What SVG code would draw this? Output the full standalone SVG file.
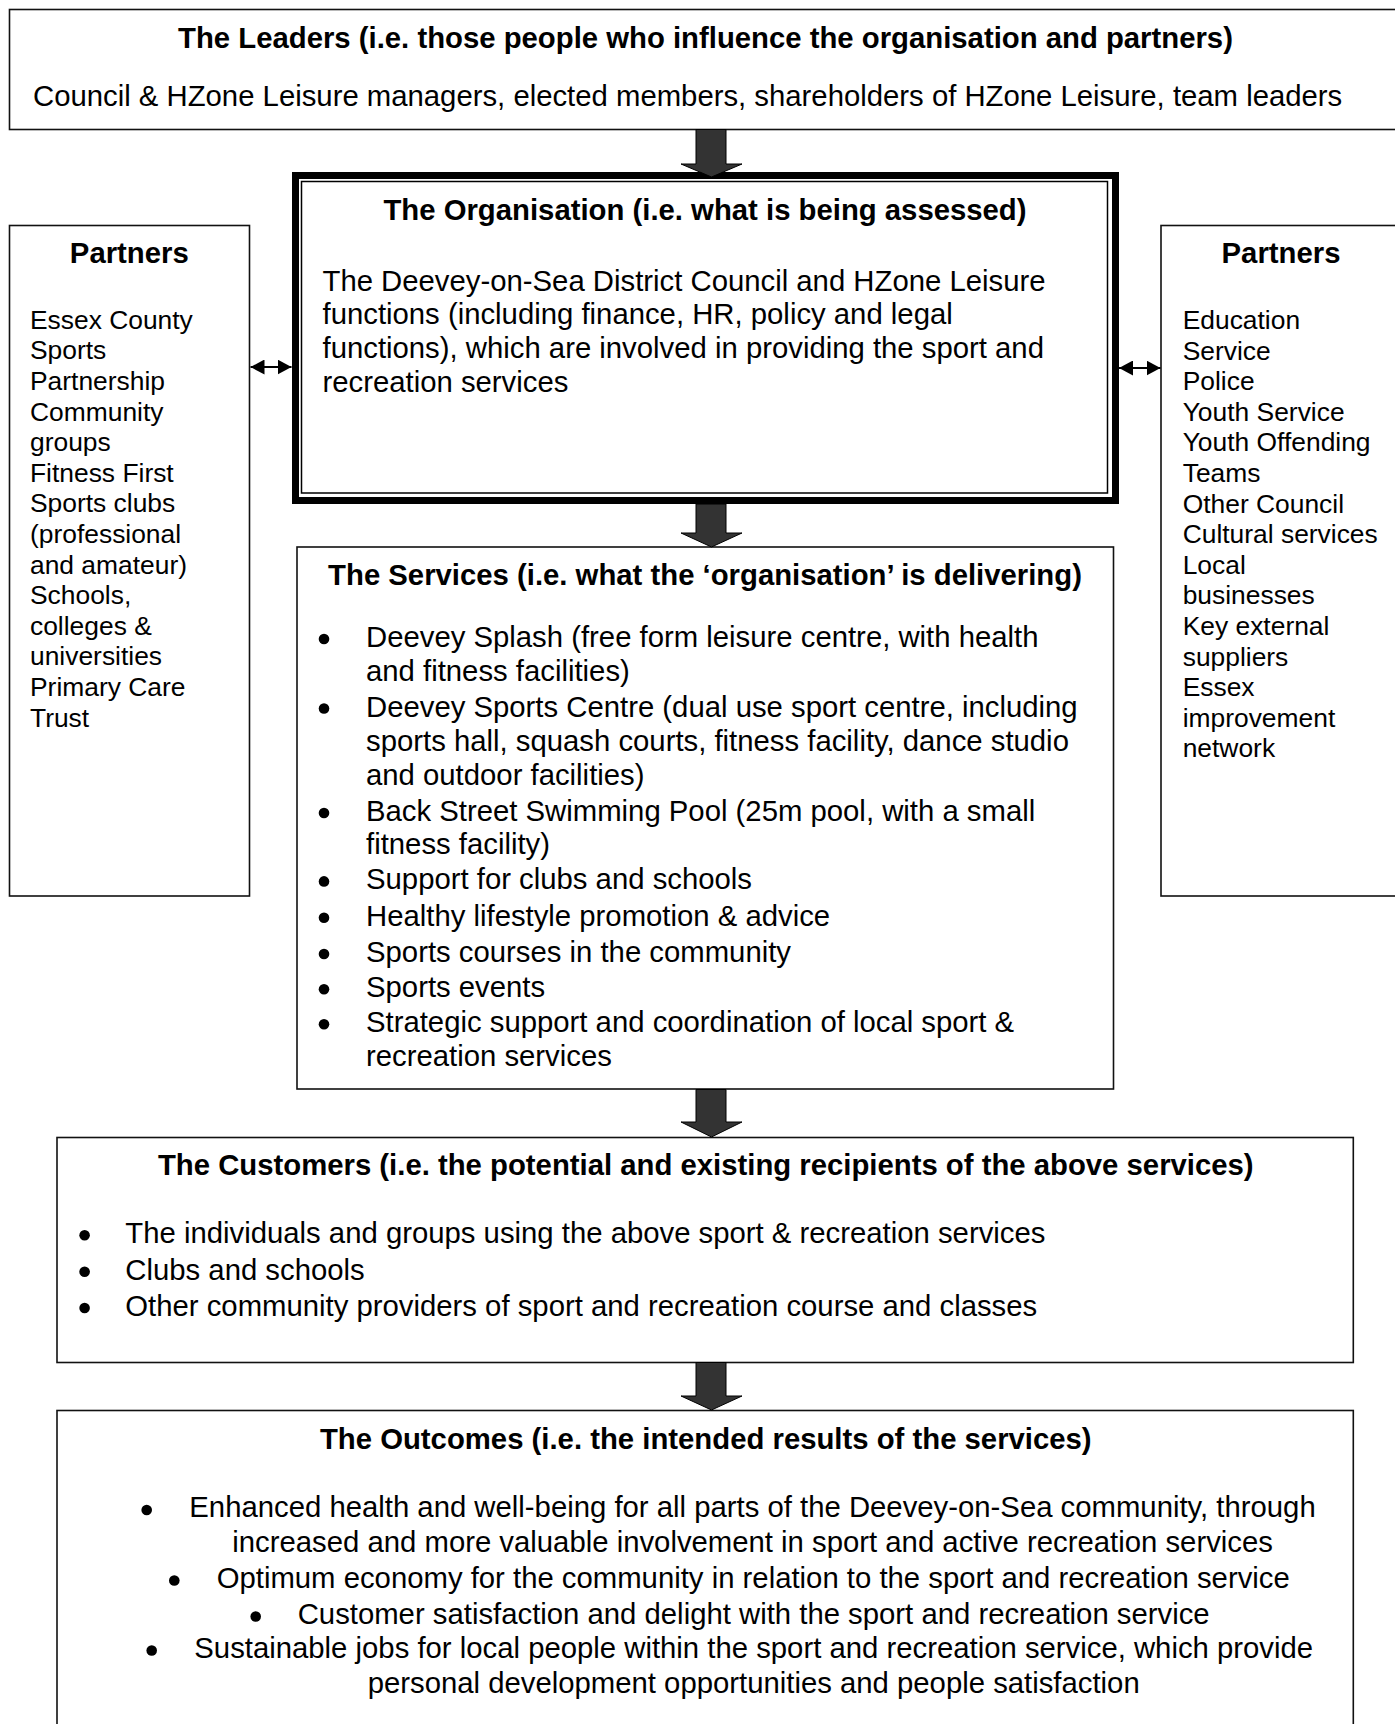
<svg xmlns="http://www.w3.org/2000/svg" width="1395" height="1724" viewBox="0 0 1395 1724">
<defs>
<style>
.box{fill:#fff;stroke:#111;stroke-width:1.6}
.t{font-family:"Liberation Sans",Arial,sans-serif;font-size:29.3px;fill:#000}
.b{font-weight:bold}
.m{text-anchor:middle}
.p{font-family:"Liberation Sans",Arial,sans-serif;font-size:26.4px;fill:#000}
.arrow{fill:#333;stroke:#000;stroke-width:1}
.dbl{stroke:#000;stroke-width:1.8;fill:none;marker-start:url(#ah);marker-end:url(#ah)}
.dot{fill:#000}
</style>
<marker id="ah" markerUnits="userSpaceOnUse" markerWidth="14" markerHeight="15" refX="14" refY="7.5" orient="auto-start-reverse">
<path d="M0,0 L14,7.5 L0,15 z" fill="#000"/>
</marker>
</defs>
<rect width="1395" height="1724" fill="#fff"/>

<g id="leaders">
<rect class="box" x="9.5" y="9.5" width="1400" height="120"/>
<text class="t b m" x="705.5" y="48">The Leaders (i.e. those people who influence the organisation and partners)</text>
<text class="t" x="33" y="106">Council &amp; HZone Leisure managers, elected members, shareholders of HZone Leisure, team leaders</text>
</g>

<g id="organisation">
<rect x="295.5" y="175.5" width="820" height="325" fill="#fff" stroke="#000" stroke-width="7"/>
<rect x="301.5" y="181.5" width="806" height="311.5" fill="none" stroke="#000" stroke-width="1.5"/>
<text class="t b m" x="705" y="220">The Organisation (i.e. what is being assessed)</text>
<text class="t" x="322.5" y="290.7">The Deevey-on-Sea District Council and HZone Leisure</text>
<text class="t" x="322.5" y="324.4">functions (including finance, HR, policy and legal</text>
<text class="t" x="322.5" y="358.1">functions), which are involved in providing the sport and</text>
<text class="t" x="322.5" y="391.8">recreation services</text>
</g>

<g id="partners-left">
<rect class="box" x="9.5" y="225.5" width="240" height="670.5"/>
<text class="t b m" x="129.3" y="263.3">Partners</text>
<text class="p" x="30" y="328.7">Essex County</text>
<text class="p" x="30" y="359.3">Sports</text>
<text class="p" x="30" y="389.9">Partnership</text>
<text class="p" x="30" y="420.5">Community</text>
<text class="p" x="30" y="451.1">groups</text>
<text class="p" x="30" y="481.7">Fitness First</text>
<text class="p" x="30" y="512.3">Sports clubs</text>
<text class="p" x="30" y="542.9">(professional</text>
<text class="p" x="30" y="573.5">and amateur)</text>
<text class="p" x="30" y="604.1">Schools,</text>
<text class="p" x="30" y="634.7">colleges &amp;</text>
<text class="p" x="30" y="665.3">universities</text>
<text class="p" x="30" y="695.9">Primary Care</text>
<text class="p" x="30" y="726.5">Trust</text>
</g>

<g id="partners-right">
<rect class="box" x="1161" y="225.5" width="300" height="670.5"/>
<text class="t b m" x="1281" y="263.3">Partners</text>
<text class="p" x="1182.7" y="329">Education</text>
<text class="p" x="1182.7" y="359.6">Service</text>
<text class="p" x="1182.7" y="390.2">Police</text>
<text class="p" x="1182.7" y="420.8">Youth Service</text>
<text class="p" x="1182.7" y="451.4">Youth Offending</text>
<text class="p" x="1182.7" y="482">Teams</text>
<text class="p" x="1182.7" y="512.6">Other Council</text>
<text class="p" x="1182.7" y="543.2">Cultural services</text>
<text class="p" x="1182.7" y="573.8">Local</text>
<text class="p" x="1182.7" y="604.4">businesses</text>
<text class="p" x="1182.7" y="635">Key external</text>
<text class="p" x="1182.7" y="665.6">suppliers</text>
<text class="p" x="1182.7" y="696.2">Essex</text>
<text class="p" x="1182.7" y="726.8">improvement</text>
<text class="p" x="1182.7" y="757.4">network</text>
</g>

<g id="services">
<rect class="box" x="297" y="547" width="816.5" height="542"/>
<text class="t b m" x="705" y="585">The Services (i.e. what the ‘organisation’ is delivering)</text>
<circle class="dot" cx="324" cy="639" r="5.3"/>
<text class="t" x="366" y="647">Deevey Splash (free form leisure centre, with health</text>
<text class="t" x="366" y="680.6">and fitness facilities)</text>
<circle class="dot" cx="324" cy="708.5" r="5.3"/>
<text class="t" x="366" y="716.5">Deevey Sports Centre (dual use sport centre, including</text>
<text class="t" x="366" y="750.6">sports hall, squash courts, fitness facility, dance studio</text>
<text class="t" x="366" y="784.8">and outdoor facilities)</text>
<circle class="dot" cx="324" cy="813" r="5.3"/>
<text class="t" x="366" y="821">Back Street Swimming Pool (25m pool, with a small</text>
<text class="t" x="366" y="854.3">fitness facility)</text>
<circle class="dot" cx="324" cy="881.4" r="5.3"/>
<text class="t" x="366" y="889.4">Support for clubs and schools</text>
<circle class="dot" cx="324" cy="917.7" r="5.3"/>
<text class="t" x="366" y="925.7">Healthy lifestyle promotion &amp; advice</text>
<circle class="dot" cx="324" cy="954" r="5.3"/>
<text class="t" x="366" y="962">Sports courses in the community</text>
<circle class="dot" cx="324" cy="989.2" r="5.3"/>
<text class="t" x="366" y="997.2">Sports events</text>
<circle class="dot" cx="324" cy="1024.3" r="5.3"/>
<text class="t" x="366" y="1032.3">Strategic support and coordination of local sport &amp;</text>
<text class="t" x="366" y="1066.4">recreation services</text>
</g>

<g id="customers">
<rect class="box" x="57" y="1137.5" width="1296.3" height="225"/>
<text class="t b m" x="705.8" y="1175">The Customers (i.e. the potential and existing recipients of the above services)</text>
<circle class="dot" cx="84.6" cy="1235.3" r="5.3"/>
<text class="t" x="125.3" y="1243.3">The individuals and groups using the above sport &amp; recreation services</text>
<circle class="dot" cx="84.6" cy="1271.7" r="5.3"/>
<text class="t" x="125.3" y="1279.7">Clubs and schools</text>
<circle class="dot" cx="84.6" cy="1308" r="5.3"/>
<text class="t" x="125.3" y="1316">Other community providers of sport and recreation course and classes</text>
</g>

<g id="outcomes">
<rect class="box" x="57" y="1410.5" width="1296.3" height="400"/>
<text class="t b m" x="705.8" y="1449.3">The Outcomes (i.e. the intended results of the services)</text>
<circle class="dot" cx="146.7" cy="1510" r="5.3"/>
<text class="t" x="189.3" y="1517.3">Enhanced health and well-being for all parts of the Deevey-on-Sea community, through</text>
<text class="t" x="232.3" y="1551.7">increased and more valuable involvement in sport and active recreation services</text>
<circle class="dot" cx="174.3" cy="1580.5" r="5.3"/>
<text class="t" x="216.7" y="1588.3">Optimum economy for the community in relation to the sport and recreation service</text>
<circle class="dot" cx="255.7" cy="1616.5" r="5.3"/>
<text class="t" x="297.7" y="1624.3">Customer satisfaction and delight with the sport and recreation service</text>
<circle class="dot" cx="151.7" cy="1650.5" r="5.3"/>
<text class="t" x="194.3" y="1658.3">Sustainable jobs for local people within the sport and recreation service, which provide</text>
<text class="t" x="367.7" y="1693.3">personal development opportunities and people satisfaction</text>
</g>

<g id="connectors">
<polygon class="arrow" points="696,129.5 726,129.5 726,164 742,164 711.5,177 681,164 696,164"/>
<polygon class="arrow" points="696,504 726,504 726,533 742,533 711.5,547 681,533 696,533"/>
<polygon class="arrow" points="696,1089.5 726,1089.5 726,1122 742,1122 711.5,1137 681,1122 696,1122"/>
<polygon class="arrow" points="696,1362.5 726,1362.5 726,1396 742,1396 711.5,1410 681,1396 696,1396"/>
<line class="dbl" x1="250.5" y1="367" x2="291.5" y2="367"/>
<line class="dbl" x1="1119" y1="368" x2="1160.5" y2="368"/>
</g>
</svg>
